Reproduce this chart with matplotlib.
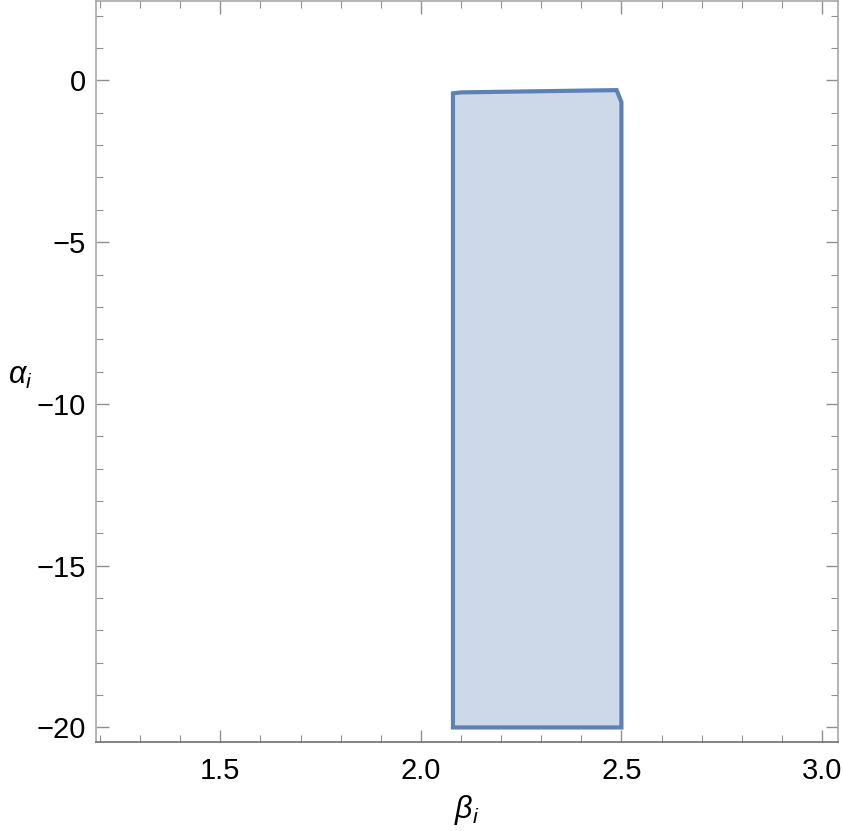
import matplotlib
matplotlib.use('Agg')
import matplotlib.pyplot as plt
from matplotlib.ticker import MultipleLocator

# region boundary (beta_i, alpha_i)
beta_pts = [2.08, 2.10, 2.488, 2.50, 2.50, 2.08]
alpha_pts = [-0.40, -0.37, -0.30, -0.67, -20.0, -20.0]

x_ticks = [1.5, 2.0, 2.5, 3.0]
y_ticks = [0, -5, -10, -15, -20]

plt.rcParams['font.family'] = ['Liberation Sans', 'DejaVu Sans']
plt.rcParams['mathtext.fontset'] = 'custom'
plt.rcParams['mathtext.rm'] = 'Liberation Sans'
plt.rcParams['mathtext.it'] = 'Liberation Sans:italic'

fig = plt.figure(figsize=(8.43, 8.31), dpi=100)
ax = fig.add_axes([96 / 843, 89 / 831, 742 / 843, 741.5 / 831])

ax.fill(beta_pts, alpha_pts, facecolor='#cdd9e9', edgecolor='#5e81b5',
        linewidth=3.0, joinstyle='miter')

ax.set_xlim(1.19, 3.04)
ax.set_ylim(-20.45, 2.47)

ax.set_xticks(x_ticks)
ax.set_xticklabels(['1.5', '2.0', '2.5', '3.0'])
ax.set_yticks(y_ticks)
ax.set_yticklabels(['0', '\u22125', '\u221210', '\u221215', '\u221220'])
ax.xaxis.set_minor_locator(MultipleLocator(0.1))
ax.yaxis.set_minor_locator(MultipleLocator(1))

for s in ax.spines.values():
    s.set_color('#a8a8a8')
    s.set_linewidth(1.2)
ax.spines['bottom'].set_color('#707070')

ax.tick_params(which='both', direction='in', top=True, right=True,
               color='#909090', labelsize=21, labelcolor='black')
ax.tick_params(which='major', length=9, width=1.0)
ax.tick_params(axis='x', which='major', pad=11)
ax.tick_params(axis='y', which='major', pad=7)
ax.tick_params(which='minor', length=5, width=0.8)

ax.set_xlabel(r'$\beta_i$', fontsize=22)
ax.xaxis.label.set_va('center')
ax.xaxis.set_label_coords(0.5, -0.092)
ax.set_ylabel(r'$\alpha_i$', fontsize=22, rotation=0)
ax.yaxis.label.set_va('center')
ax.yaxis.label.set_ha('center')
ax.yaxis.set_label_coords(-0.102, 0.494)

fig.savefig('out.png', dpi=100)
